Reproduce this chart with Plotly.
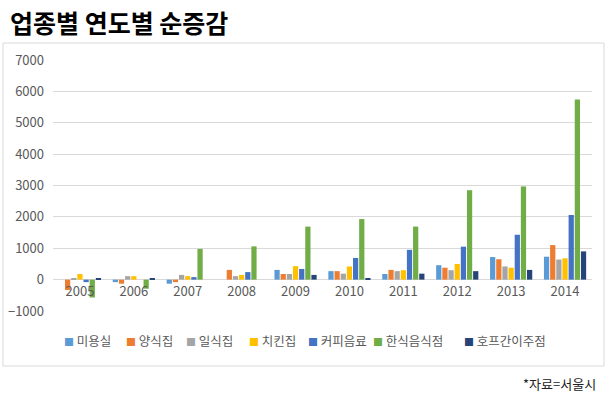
import plotly.graph_objects as go

years = ["2005", "2006", "2007", "2008", "2009", "2010", "2011", "2012", "2013", "2014"]
series_names = ["미용실", "양식집", "일식집", "치킨집", "커피음료", "한식음식점", "호프간이주점"]
beauty = [0, -80, -130, 0, 310, 270, 180, 460, 720, 730]
western = [-330, -130, -80, 310, 180, 270, 310, 380, 650, 1100]
japanese = [30, 110, 150, 110, 180, 190, 270, 300, 420, 640]
chicken = [180, 110, 110, 150, 430, 420, 300, 500, 380, 680]
coffee = [-80, 0, 80, 240, 340, 690, 950, 1050, 1430, 2060]
korean = [-570, -290, 980, 1060, 1690, 1930, 1690, 2850, 2970, 5740]
pub = [40, 40, 0, 0, 150, 30, 190, 270, 310, 900]
colors = ["#5B9BD5", "#ED7D31", "#A5A5A5", "#FFC000", "#4472C4", "#70AD47", "#264478"]
y_ticks = [-1000, 0, 1000, 2000, 3000, 4000, 5000, 6000, 7000]

values = [beauty, western, japanese, chicken, coffee, korean, pub]

W, H = 609, 398
ml, mr, mt, mb = 53, 17, 60, 87
pw, ph = W - ml - mr, H - mt - mb

def px(x):
    return (x - ml) / pw

def py(y):
    return (H - mb - y) / ph

font = "Noto Sans CJK KR"
fig = go.Figure()
for name, vals, c in zip(series_names, values, colors):
    fig.add_trace(go.Bar(name=name, x=years, y=vals, marker_color=c, marker_line_width=0,
                         showlegend=False))

# compact legend drawn as text (left pixel position of each entry)
legend_left = [62, 124, 184, 247, 306, 371, 462]
annotations = []
for name, c, lx in zip(series_names, colors, legend_left):
    annotations.append(dict(
        text=f"<span style='color:{c};font-size:10px'>■</span> {name}",
        xref="paper", yref="paper", x=px(lx), y=py(340), xanchor="left", yanchor="middle",
        align="left", showarrow=False, font=dict(size=12.5, color="#595959", family=font)))

annotations += [
    dict(text="<b>업종별 연도별 순증감</b>", xref="paper", yref="paper", x=px(8), y=py(22),
         xanchor="left", yanchor="middle", align="left", showarrow=False,
         font=dict(size=25, color="#000000", family=font)),
    dict(text="*자료=서울시", xref="paper", yref="paper", x=px(598), y=py(383),
         xanchor="right", yanchor="middle", align="right", showarrow=False,
         font=dict(size=13, color="#222222", family=font)),
]

fig.update_layout(
    width=W, height=H,
    margin=dict(l=ml, r=mr, t=mt, b=mb, autoexpand=False),
    paper_bgcolor="white", plot_bgcolor="white",
    barmode="group", bargap=0.2, bargroupgap=0.15,
    font=dict(family=font, color="#595959", size=13),
    showlegend=False,
    hovermode=False,
    xaxis=dict(anchor="free", position=1000 / 8000, showgrid=False, showline=False,
               ticks="", tickfont=dict(size=13, color="#595959"), ticklabelstandoff=2,
               automargin=False),
    yaxis=dict(range=[-1000, 7000], tickvals=y_ticks, showgrid=True, gridcolor="#D9D9D9",
               gridwidth=1, zeroline=True, zerolinecolor="#D9D9D9", zerolinewidth=1,
               tickfont=dict(size=13, color="#595959"), ticklabelstandoff=8,
               tickformat="d", automargin=False),
    shapes=[dict(type="rect", xref="paper", yref="paper", x0=px(3), x1=px(604),
                 y0=py(366), y1=py(43), line=dict(color="#D9D9D9", width=1), layer="below")],
    annotations=annotations,
)
fig.write_html("out.html", config={"displayModeBar": False},
               post_script="document.body.style.margin='0';")
